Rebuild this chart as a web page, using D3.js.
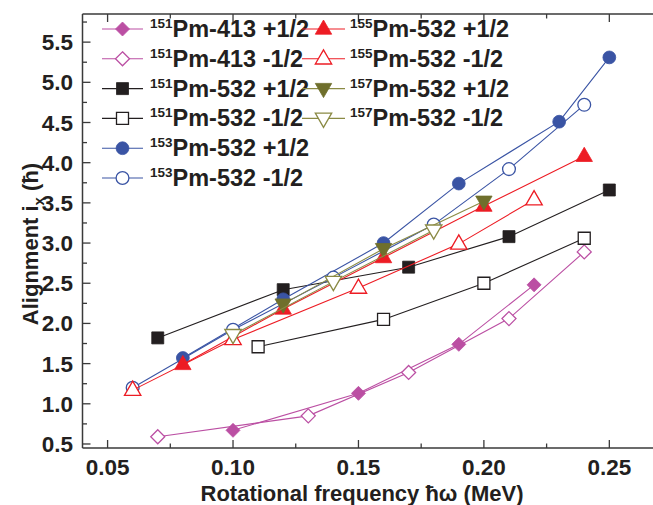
<!DOCTYPE html>
<html>
<head>
<meta charset="utf-8">
<script src="https://cdn.jsdelivr.net/npm/d3@7"></script>
<style>
  html, body { margin: 0; padding: 0; background: #fff; }
  svg { display: block; font-family: "Liberation Sans", Arial, sans-serif; }
</style>
</head>
<body>
<svg id="chart" width="653" height="505"></svg>
<script>
// values: [hbar*omega (MeV), alignment i_x (hbar)]
const pm151_413_plus  = [[0.10, 0.67], [0.15, 1.13], [0.19, 1.74], [0.22, 2.48]];
const pm151_413_minus = [[0.07, 0.59], [0.13, 0.85], [0.17, 1.39], [0.21, 2.06], [0.24, 2.89]];
const pm151_532_plus  = [[0.07, 1.82], [0.12, 2.42], [0.17, 2.70], [0.21, 3.08], [0.25, 3.66]];
const pm151_532_minus = [[0.11, 1.71], [0.16, 2.05], [0.20, 2.50], [0.24, 3.06]];
const pm153_532_plus  = [[0.08, 1.57], [0.12, 2.30], [0.16, 3.00], [0.19, 3.74], [0.23, 4.51], [0.25, 5.31]];
const pm153_532_minus = [[0.06, 1.20], [0.10, 1.92], [0.14, 2.57], [0.18, 3.23], [0.21, 3.92], [0.24, 4.72]];
const pm155_532_plus  = [[0.08, 1.49], [0.12, 2.18], [0.16, 2.82], [0.20, 3.46], [0.24, 4.08]];
const pm155_532_minus = [[0.06, 1.17], [0.10, 1.80], [0.15, 2.44], [0.19, 2.99], [0.22, 3.54]];
const pm157_532_plus  = [[0.12, 2.24], [0.16, 2.93], [0.20, 3.52]];
const pm157_532_minus = [[0.10, 1.86], [0.14, 2.52], [0.18, 3.16]];

const xTicks = [0.05, 0.10, 0.15, 0.20, 0.25];
const yTicks = [0.5, 1.0, 1.5, 2.0, 2.5, 3.0, 3.5, 4.0, 4.5, 5.0, 5.5];

// series in legend order (col 1 top-down, then col 2)
const series = [
  { mass: "151", label: "Pm-413 +1/2", data: pm151_413_plus,  shape: "diamond", open: false, color: "#bb4fa3", line: "#bb4fa3" },
  { mass: "151", label: "Pm-413 -1/2", data: pm151_413_minus, shape: "diamond", open: true,  color: "#bb4fa3", line: "#bb4fa3" },
  { mass: "151", label: "Pm-532 +1/2", data: pm151_532_plus,  shape: "square",  open: false, color: "#231f20", line: "#231f20" },
  { mass: "151", label: "Pm-532 -1/2", data: pm151_532_minus, shape: "square",  open: true,  color: "#231f20", line: "#231f20" },
  { mass: "153", label: "Pm-532 +1/2", data: pm153_532_plus,  shape: "circle",  open: false, color: "#3a54a4", line: "#3a54a4" },
  { mass: "153", label: "Pm-532 -1/2", data: pm153_532_minus, shape: "circle",  open: true,  color: "#3a54a4", line: "#3a54a4" },
  { mass: "155", label: "Pm-532 +1/2", data: pm155_532_plus,  shape: "triUp",   open: false, color: "#ed1c24", line: "#ed1c24" },
  { mass: "155", label: "Pm-532 -1/2", data: pm155_532_minus, shape: "triUp",   open: true,  color: "#ed1c24", line: "#ed1c24" },
  { mass: "157", label: "Pm-532 +1/2", data: pm157_532_plus,  shape: "triDown", open: false, color: "#6f6f2c", line: "#8a8a44" },
  { mass: "157", label: "Pm-532 -1/2", data: pm157_532_minus, shape: "triDown", open: true,  color: "#8a8a44", line: "#8a8a44" }
];

const svg = d3.select("#chart");
const ink = "#231f20";

const x = d3.scaleLinear().domain([0.04, 0.27]).range([82.5, 659.5]);
const y = d3.scaleLinear().domain([0.45, 5.85]).range([448, 14]);

// marker outlines
function markerPath(shape) {
  const p = d3.path();
  if (shape === "circle") {
    p.arc(0, 0, 6.4, 0, 2 * Math.PI);
  } else if (shape === "square") {
    p.rect(-6, -6, 12, 12);
  } else if (shape === "diamond") {
    p.moveTo(0, -7); p.lineTo(7, 0); p.lineTo(0, 7); p.lineTo(-7, 0); p.closePath();
  } else if (shape === "triUp") {
    p.moveTo(0, -9); p.lineTo(8.2, 5.2); p.lineTo(-8.2, 5.2); p.closePath();
  } else {
    p.moveTo(0, 9); p.lineTo(8.2, -5.2); p.lineTo(-8.2, -5.2); p.closePath();
  }
  return p.toString();
}

// frame: left, top, bottom (right edge runs off the picture)
const frame = svg.append("g").attr("stroke", "#3a3a3a").attr("stroke-width", 1.5).attr("fill", "none");
frame.append("line").attr("x1", x(0.04)).attr("x2", x(0.04)).attr("y1", y(0.45)).attr("y2", y(5.85));
frame.append("line").attr("x1", x(0.04)).attr("x2", 660).attr("y1", y(0.45)).attr("y2", y(0.45));
frame.append("line").attr("x1", x(0.04)).attr("x2", 660).attr("y1", y(5.85)).attr("y2", y(5.85));

// inward ticks
const xMinor = d3.range(0.075, 0.27, 0.05);
const yMinor = d3.range(0.75, 5.85, 0.5);
const tickG = svg.append("g").attr("stroke", "#3a3a3a").attr("stroke-width", 1.3);
[[xTicks, 8], [xMinor, 4.5]].forEach(([vals, len]) => {
  vals.forEach(v => {
    tickG.append("line").attr("x1", x(v)).attr("x2", x(v)).attr("y1", y(0.45)).attr("y2", y(0.45) - len);
    tickG.append("line").attr("x1", x(v)).attr("x2", x(v)).attr("y1", y(5.85)).attr("y2", y(5.85) + len);
  });
});
[[yTicks, 8], [yMinor, 4.5]].forEach(([vals, len]) => {
  vals.forEach(v => {
    tickG.append("line").attr("x1", x(0.04)).attr("x2", x(0.04) + len).attr("y1", y(v)).attr("y2", y(v));
  });
});

// tick labels
svg.append("g").selectAll("text").data(xTicks).join("text")
  .attr("x", d => x(d)).attr("y", 475)
  .attr("text-anchor", "middle")
  .attr("font-size", 22.5).attr("font-weight", "bold").attr("fill", ink)
  .text(d => d3.format(".2f")(d));

svg.append("g").selectAll("text").data(yTicks).join("text")
  .attr("x", 73).attr("y", d => y(d) + 8)
  .attr("text-anchor", "end")
  .attr("font-size", 22.5).attr("font-weight", "bold").attr("fill", ink)
  .text(d => d3.format(".1f")(d));

// axis titles
svg.append("text")
  .attr("x", 362).attr("y", 501)
  .attr("text-anchor", "middle")
  .attr("font-size", 22).attr("font-weight", "bold").attr("fill", ink)
  .text("Rotational frequency ħω (MeV)");

const yTitle = svg.append("text")
  .attr("transform", "translate(38,244) rotate(-90)")
  .attr("text-anchor", "middle")
  .attr("font-size", 22).attr("font-weight", "bold").attr("fill", ink);
yTitle.append("tspan").text("Alignment i");
yTitle.append("tspan").attr("font-size", 15).attr("dy", 6).text("x");
yTitle.append("tspan").attr("dy", -6).text(" (ħ)");

// data
const line = d3.line().x(d => x(d[0])).y(d => y(d[1]));
series.forEach(s => {
  const g = svg.append("g");
  g.append("path").datum(s.data)
    .attr("d", line)
    .attr("fill", "none").attr("stroke", s.line).attr("stroke-width", 1.1);
  g.selectAll("path.m").data(s.data).join("path")
    .attr("class", "m")
    .attr("transform", d => `translate(${x(d[0])},${y(d[1])})`)
    .attr("d", markerPath(s.shape))
    .attr("fill", s.open ? "#fff" : s.color)
    .attr("stroke", s.color).attr("stroke-width", s.open ? 1.3 : 0.8);
});

// legend: two columns
const legendCols = [{ x0: 102, x1: 143, text: 150 }, { x0: 302, x1: 345, text: 350 }];
const rowY = i => 29 + i * 29.8;
series.forEach((s, i) => {
  const col = i < 6 ? legendCols[0] : legendCols[1];
  const row = i < 6 ? i : i - 6;
  const cy = rowY(row);
  const g = svg.append("g");
  g.append("line").attr("x1", col.x0).attr("x2", col.x1).attr("y1", cy).attr("y2", cy)
    .attr("stroke", s.line).attr("stroke-width", 1.1);
  g.append("path")
    .attr("transform", `translate(${(col.x0 + col.x1) / 2},${cy})`)
    .attr("d", markerPath(s.shape))
    .attr("fill", s.open ? "#fff" : s.color)
    .attr("stroke", s.color).attr("stroke-width", s.open ? 1.3 : 0.8);
  const t = g.append("text").attr("x", col.text).attr("y", cy + 8)
    .attr("font-weight", "bold").attr("fill", ink);
  t.append("tspan").attr("font-size", 13.5).attr("dy", -9).text(s.mass);
  t.append("tspan").attr("font-size", 23.5).attr("dy", 9).text(s.label);
});
</script>
</body>
</html>
